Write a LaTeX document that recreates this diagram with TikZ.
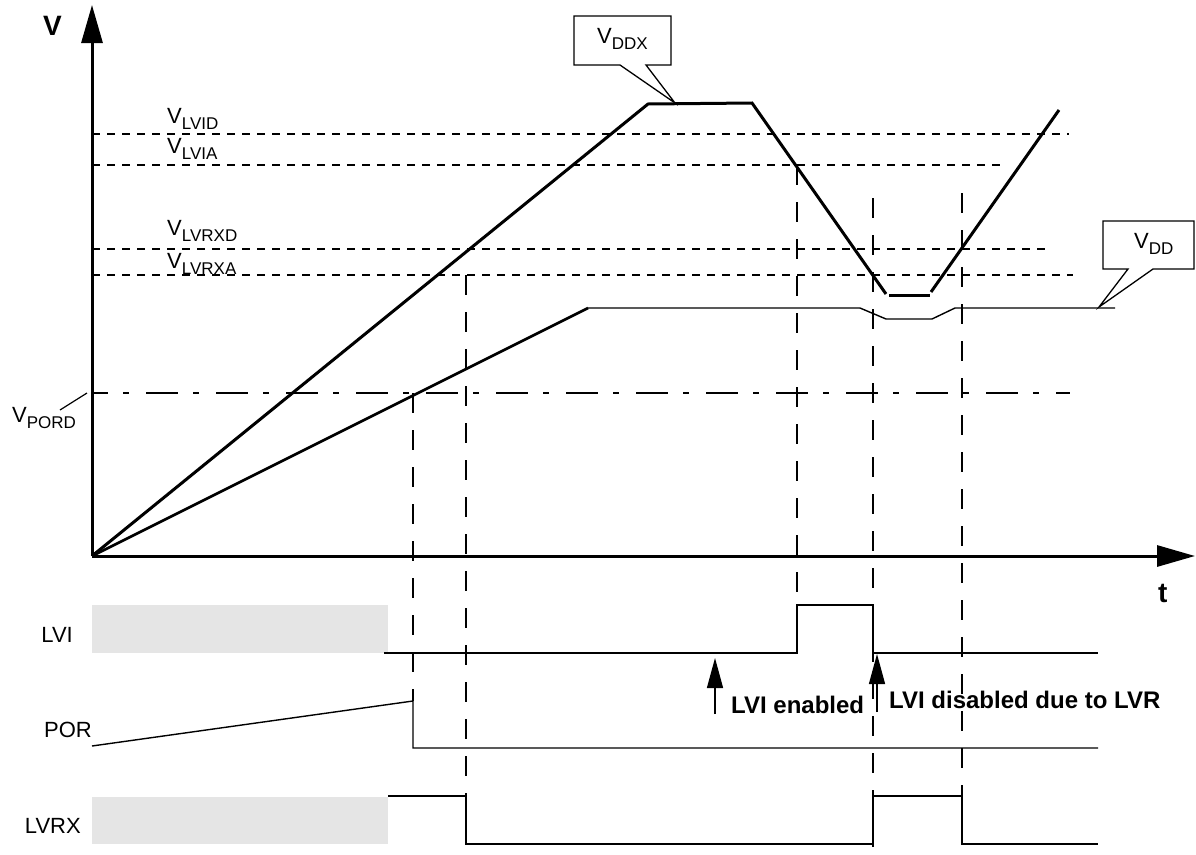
\documentclass[tikz,border=0pt]{standalone}
\usepackage{fontspec}
\setmainfont{Liberation Sans}
\usetikzlibrary{arrows.meta}
\newcommand{\Vsub}[1]{V\raisebox{-6pt}{\fontsize{17}{17}\selectfont #1}}
\begin{document}
\begin{tikzpicture}[x=1pt,y=-1pt,
  thickline/.style={line width=3pt, line join=miter},
  rampline/.style={line width=2.7pt},
  thinline/.style={line width=1.4pt},
  level/.style={line width=1.3pt, dash pattern=on 7.5pt off 7.5pt},
  porlevel/.style={line width=1.3pt, dash pattern=on 32pt off 15pt on 6pt off 17pt, dash phase=16pt},
  guide/.style={line width=1.3pt, dash pattern=on 20pt off 17pt},
  lbl/.style={inner sep=0pt, font=\fontsize{22}{22}\selectfont},
  blbl/.style={inner sep=0pt, font=\fontsize{28}{28}\selectfont\bfseries},
  note/.style={inner sep=0pt, font=\fontsize{24}{24}\selectfont\bfseries},
  graybox/.style={fill=black!10, draw=none},
  callout/.style={draw, fill=white, line width=1.3pt, line join=miter},
  axis/.style={line width=3pt, -{Triangle[length=38pt,width=21pt]}},
  marker/.style={line width=1.4pt, -{Triangle[length=30pt,width=16pt]}}
]
\useasboundingbox (0,0) rectangle (1196,854);

% gray boxes
\fill[graybox] (92,605) rectangle (388,653);
\fill[graybox] (92,797) rectangle (388,844);

% level lines
\draw[level] (92,134) -- (1069,134);
\draw[level] (92,165) -- (1007,165);
\draw[level] (92,249) -- (1048,249);
\draw[level] (92,275) -- (1073,275);
\draw[porlevel] (92,393) -- (1070,393);

% vertical guides
\draw[guide] (413,393) -- (413,701);
\draw[guide] (466,275) -- (466,796);
\draw[guide] (797,165) -- (797,605);
\draw[guide] (873,198) -- (873,854);
\draw[guide] (962,193) -- (962,796);

% axes
\coordinate (O) at (92,556);
\coordinate (Vtop) at (92,5);
\coordinate (Tend) at (1195,556);
\draw[axis] (O) -- (Vtop);
\draw[axis] (O) -- (Tend);
\node[blbl, anchor=base west] (vlab) at (43,35) {V};
\node[blbl, anchor=base west] (tlab) at (1158,602) {t};

% VDDX curve
\coordinate (x1) at (648,104);
\coordinate (x2) at (752,103);
\coordinate (x3) at (886,294);
\coordinate (x4) at (889,295);
\coordinate (x5) at (930,295);
\coordinate (x6) at (931,292);
\coordinate (x7) at (1059,110);
\draw[thickline] (O) -- (x1) -- (x2) -- (x3);
\draw[thickline] (x4) -- (x5);
\draw[thickline] (x6) -- (x7);

% VDD curve
\coordinate (d1) at (588,308);
\draw[rampline] (O) -- (d1);
\draw[thinline] (d1) -- (860,308) -- (886,319) -- (932,319) -- (955,308) -- (1115,308);

% level labels
\node[lbl, anchor=base west] (lvid) at (167,123) {\Vsub{LVID}};
\node[lbl, anchor=base west] (lvia) at (167,153) {\Vsub{LVIA}};
\node[lbl, anchor=base west] (lvrxd) at (167,235) {\Vsub{LVRXD}};
\node[lbl, anchor=base west] (lvrxa) at (167,268) {\Vsub{LVRXA}};
\node[lbl, anchor=base west] (pord) at (12,422) {\Vsub{PORD}};
\draw[line width=1.2pt] (60,410) -- (87,393);

% callouts
\draw[callout] (574,16) -- (671,16) -- (671,65) -- (646,65) -- (675,103) -- (620,65) -- (574,65) -- cycle;
\node[lbl, anchor=base west] (vddx) at (597,43) {\Vsub{DDX}};
\draw[callout] (1103,221) -- (1194,221) -- (1194,269) -- (1153,269) -- (1099,307) -- (1128,269) -- (1103,269) -- cycle;
\node[lbl, anchor=base west] (vdd) at (1134,248) {\Vsub{DD}};

% signals
\node[lbl, anchor=base east] (lvi) at (73,642) {LVI};
\node[lbl, anchor=base east] (por) at (92,737) {POR};
\node[lbl, anchor=base east] (lvrx) at (81,833) {LVRX};
\draw[thinline] (384,653) -- (797,653) -- (797,605) -- (873,605) -- (873,653) -- (1098,653);
\draw[thinline] (92,746) -- (413,701) -- (413,748) -- (1098,748);
\draw[thinline] (388,796) -- (466,796) -- (466,844) -- (873,844) -- (873,796) -- (962,796) -- (962,844) -- (1098,844);

% notes
\coordinate (a1s) at (715,714);
\coordinate (a1e) at (715,658);
\coordinate (a2s) at (877,712);
\coordinate (a2e) at (877,654);
\draw[marker] (a1s) -- (a1e);
\draw[marker] (a2s) -- (a2e);
\node[note, anchor=base west] (en) at (731,713) {LVI enabled};
\node[note, anchor=base west] (dis) at (889,708) {LVI disabled due to LVR};
\end{tikzpicture}
\end{document}
